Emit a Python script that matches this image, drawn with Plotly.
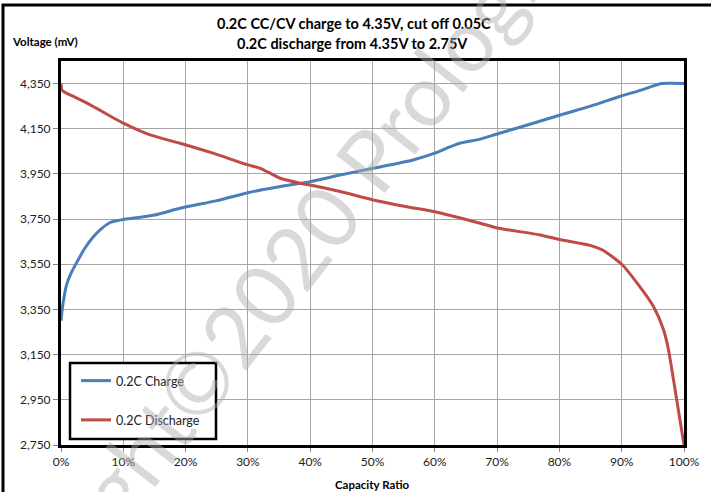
import plotly.graph_objects as go

# ---- data (capacity ratio in %, voltage in mV) ----
charge_x = [0, 0.15, 0.4, 0.9, 1.6, 2.5, 3.8, 5.2, 6.5, 7.9, 9, 10, 15, 19.1, 25, 30, 35.2, 40,
            44.8, 50.1, 56.5, 60, 62, 64, 67.3, 70, 75, 80, 85, 89.7, 93, 96.4, 100]
charge_v = [3300, 3340, 3390, 3460, 3510, 3557, 3620, 3672, 3708, 3735, 3743, 3748, 3768, 3798,
            3832, 3867, 3894, 3916, 3945, 3975, 4012, 4042, 4065, 4086, 4104, 4127, 4168, 4210,
            4250, 4293, 4320, 4350, 4350]

discharge_x = [0, 0.1, 0.4, 2, 4.7, 10, 14.3, 19.1, 24.4, 30, 32, 35.2, 38.4, 40, 44.8, 50.1,
               55.5, 60, 67.3, 70, 76.9, 80, 84.9, 87, 90, 92.9, 95.1, 96.7, 97.5, 98.3, 100]
discharge_v = [4350, 4325, 4315, 4293, 4256, 4175, 4123, 4086, 4042, 3990, 3975, 3931, 3909,
               3901, 3872, 3835, 3805, 3783, 3732, 3711, 3680, 3660, 3634, 3612, 3550, 3451,
               3363, 3261, 3173, 3041, 2750]

x_ticks = [0, 10, 20, 30, 40, 50, 60, 70, 80, 90, 100]
x_tick_text = ["0%", "10%", "20%", "30%", "40%", "50%", "60%", "70%", "80%", "90%", "100%"]
y_ticks = [2750, 2950, 3150, 3350, 3550, 3750, 3950, 4150, 4350]

series_names = ["0.2C Charge", "0.2C Discharge"]
title_lines = ["0.2C CC/CV charge to 4.35V, cut off 0.05C",
               "0.2C discharge from 4.35V to 2.75V"]
y_title = "Voltage (mV)"
x_title = "Capacity Ratio"
watermark = "Copyright©2020 Prologium"

FONT = "Lato"
W, H = 711, 492
L, R, T, B = 61, 27, 61, 47
PW, PH = W - L - R, H - T - B


def px(xp):
    return (xp - L) / PW


def py(yp):
    return (H - B - yp) / PH


fig = go.Figure()
fig.add_trace(go.Scatter(x=charge_x, y=charge_v, mode="lines", name=series_names[0],
                         line=dict(color="#4a7ebb", width=3, shape="spline", smoothing=0.6),
                         legendgroup="a"))
fig.add_trace(go.Scatter(x=discharge_x, y=discharge_v, mode="lines", name=series_names[1],
                         line=dict(color="#be4b48", width=3, shape="spline", smoothing=0.6),
                         legendgroup="b"))

fig.update_layout(
    width=W, height=H,
    margin=dict(l=L, r=R, t=T, b=B),
    paper_bgcolor="white", plot_bgcolor="white",
    font=dict(family=FONT, size=12, color="#222"),
    showlegend=True,
    legend=dict(x=px(76), y=py(366), xanchor="left", yanchor="top",
                bgcolor="rgba(0,0,0,0)", borderwidth=0,
                tracegroupgap=20, font=dict(size=12.5, color="#222"),
                itemwidth=30),
    xaxis=dict(range=[0, 100], tickvals=x_ticks, ticktext=x_tick_text,
               showgrid=True, gridcolor="#a6a6a6", gridwidth=1,
               showline=True, linecolor="black", linewidth=3, mirror=True,
               ticks="outside", ticklen=4, tickcolor="#888", zeroline=False,
               tickfont=dict(size=12)),
    yaxis=dict(range=[2750, 4450], tickvals=y_ticks, tickformat=",",
               showgrid=True, gridcolor="#a6a6a6", gridwidth=1,
               showline=True, linecolor="black", linewidth=3, mirror=True,
               ticks="outside", ticklen=5, tickcolor="#888", zeroline=False,
               tickfont=dict(size=12)),
)

shapes = [
    # outer chart frame
    dict(type="rect", xref="paper", yref="paper",
         x0=px(3), x1=px(W + 10), y0=py(H + 10), y1=py(5),
         line=dict(color="black", width=3), fillcolor="rgba(0,0,0,0)", layer="above"),
    # legend box
    dict(type="rect", xref="paper", yref="paper",
         x0=px(70), x1=px(216), y0=py(439), y1=py(363),
         line=dict(color="black", width=2.5), fillcolor="white", layer="above"),
]
fig.update_layout(shapes=shapes)

annotations = [
    dict(text="<b>%s</b>" % title_lines[0], x=px(354), y=py(23), xref="paper", yref="paper",
         showarrow=False, font=dict(size=14.5, color="black"), xanchor="center", yanchor="middle"),
    dict(text="<b>%s</b>" % title_lines[1], x=px(352), y=py(43), xref="paper", yref="paper",
         showarrow=False, font=dict(size=14.5, color="black"), xanchor="center", yanchor="middle"),
    dict(text="<b>%s</b>" % y_title, x=px(10), y=py(42), xref="paper", yref="paper",
         showarrow=False, font=dict(size=11.5, color="black"), xanchor="left", yanchor="middle"),
    dict(text="<b>%s</b>" % x_title, x=px(372), y=py(484), xref="paper", yref="paper",
         showarrow=False, font=dict(size=11.5, color="black"), xanchor="center", yanchor="middle"),
    dict(text=watermark, x=px(266), y=py(290), xref="paper", yref="paper",
         showarrow=False, textangle=-52,
         font=dict(size=86, color="rgba(170,170,170,0.45)", family=FONT),
         xanchor="center", yanchor="middle"),
]
fig.update_layout(annotations=annotations)

fig.write_html("out.html", config={"displayModeBar": False},
               post_script="document.body.style.margin='0';")
